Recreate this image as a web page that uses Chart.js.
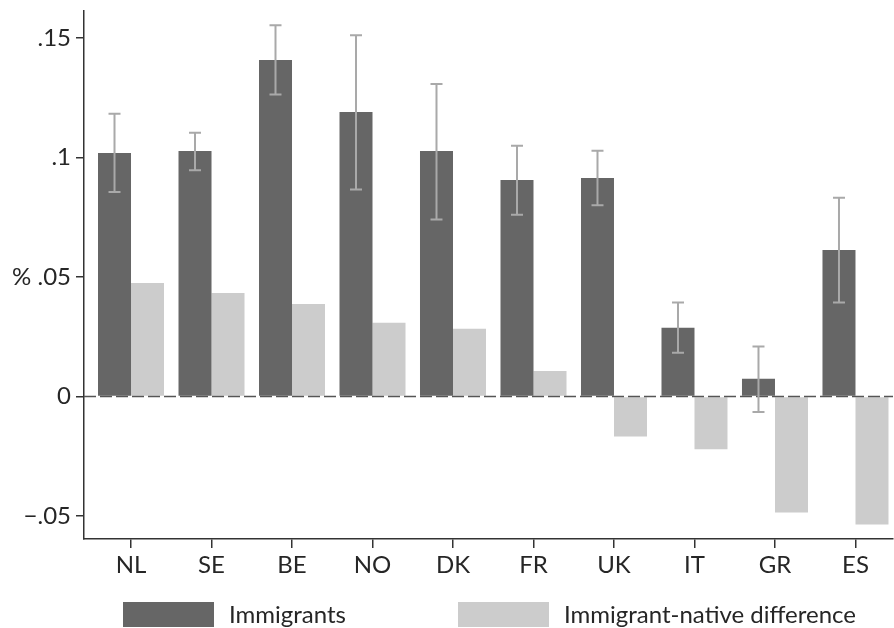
<!DOCTYPE html>
<html>
<head>
<meta charset="utf-8">
<script src="https://cdn.jsdelivr.net/npm/chart.js@4/dist/chart.umd.min.js"></script>
<style>
  html, body { margin: 0; padding: 0; background: #ffffff; }
  #wrap { width: 894px; height: 628px; }
</style>
</head>
<body>
<div id="wrap"><canvas id="c" width="894" height="628"></canvas></div>
<script>
const countries = ['NL', 'SE', 'BE', 'NO', 'DK', 'FR', 'UK', 'IT', 'GR', 'ES'];
const immigrants = [0.1018, 0.1027, 0.1407, 0.1190, 0.1027, 0.0905, 0.0914, 0.0287, 0.0074, 0.0613];
const immigrantsLow = [0.0855, 0.0946, 0.1263, 0.0866, 0.0740, 0.0760, 0.0800, 0.0183, -0.0065, 0.0393];
const immigrantsHigh = [0.1182, 0.1103, 0.1552, 0.1511, 0.1307, 0.1049, 0.1028, 0.0393, 0.0209, 0.0831];
const difference = [0.0475, 0.0433, 0.0387, 0.0308, 0.0283, 0.0107, -0.0167, -0.0221, -0.0485, -0.0535];
const yTickValues = [-0.05, 0, 0.05, 0.1, 0.15];
const yTickLabels = ['\u2212.05', '0', '.05', '.1', '.15'];
const seriesNames = ['Immigrants', 'Immigrant-native difference'];
const yAxisTitle = '%';

const FONT = 'Lato, "Open Sans", sans-serif';
const TEXT = '#262626';

const overlay = {
  id: 'overlay',
  afterDatasetsDraw(chart) {
    const ctx = chart.ctx;
    const ys = chart.scales.y;
    const area = chart.chartArea;
    // dashed zero line
    const y0 = ys.getPixelForValue(0);
    ctx.save();
    ctx.strokeStyle = '#555555';
    ctx.lineWidth = 1.5;
    ctx.setLineDash([12, 4]);
    ctx.beginPath();
    ctx.moveTo(area.left, y0);
    ctx.lineTo(area.right, y0);
    ctx.stroke();
    ctx.restore();
    // error bars on immigrants
    const meta = chart.getDatasetMeta(0);
    ctx.save();
    ctx.strokeStyle = '#a9a9a9';
    ctx.lineWidth = 2;
    meta.data.forEach((bar, i) => {
      const x = bar.x;
      const yl = ys.getPixelForValue(immigrantsLow[i]);
      const yh = ys.getPixelForValue(immigrantsHigh[i]);
      ctx.beginPath();
      ctx.moveTo(x, yl); ctx.lineTo(x, yh);
      ctx.moveTo(x - 6, yl); ctx.lineTo(x + 6, yl);
      ctx.moveTo(x - 6, yh); ctx.lineTo(x + 6, yh);
      ctx.stroke();
    });
    ctx.restore();
  },
  afterDraw(chart) {
    const ctx = chart.ctx;
    const ys = chart.scales.y;
    ctx.save();
    ctx.font = '24px ' + FONT;
    ctx.fillStyle = TEXT;
    ctx.textBaseline = 'middle';
    ctx.textAlign = 'left';
    ctx.fillText(yAxisTitle, 12, ys.getPixelForValue(0.05));
    // legend
    const boxX = [123, 458];
    chart.data.datasets.forEach((ds, i) => {
      ctx.fillStyle = ds.backgroundColor;
      ctx.fillRect(boxX[i], 602, 91, 25);
      ctx.fillStyle = TEXT;
      ctx.fillText(ds.label, boxX[i] + 106, 615);
    });
    ctx.restore();
  }
};

new Chart(document.getElementById('c'), {
  type: 'bar',
  data: {
    datasets: [
      { label: seriesNames[0], data: immigrants.map((v, i) => ({ x: i, y: v })), backgroundColor: '#666666', borderWidth: 0 },
      { label: seriesNames[1], data: difference.map((v, i) => ({ x: i, y: v })), backgroundColor: '#cccccc', borderWidth: 0 }
    ]
  },
  options: {
    responsive: false,
    animation: false,
    devicePixelRatio: 1,
    layout: { padding: { top: 11, right: 1, left: 0, bottom: 0 } },
    datasets: { bar: { categoryPercentage: 0.82, barPercentage: 1.0 } },
    plugins: { legend: { display: false }, tooltip: { enabled: false } },
    scales: {
      x: {
        type: 'linear',
        offset: false,
        min: -0.584,
        max: 9.466,
        afterBuildTicks: (s) => { s.ticks = countries.map((c, i) => ({ value: i })); },
        afterFit: (s) => { s.height = 89; s.paddingLeft = 0; s.paddingRight = 0; },
        ticks: {
          autoSkip: false,
          maxRotation: 0,
          padding: 3,
          color: TEXT,
          font: { family: FONT, size: 24 },
          callback: (v) => countries[v]
        },
        grid: { display: true, offset: false, drawOnChartArea: false, drawTicks: true, tickLength: 9, color: '#333333', lineWidth: 1.5 },
        border: { display: true, color: '#333333', width: 1.5 }
      },
      y: {
        min: -0.0596,
        max: 0.1612,
        afterBuildTicks: (s) => { s.ticks = yTickValues.map(v => ({ value: v })); },
        afterFit: (s) => { s.width = 84; s.paddingTop = 0; s.paddingBottom = 0; },
        ticks: {
          padding: 5,
          color: TEXT,
          font: { family: FONT, size: 24 },
          callback: (v) => yTickLabels[yTickValues.findIndex(t => Math.abs(t - v) < 1e-9)]
        },
        grid: { display: true, drawOnChartArea: false, drawTicks: true, tickLength: 8, color: '#333333', lineWidth: 1.5 },
        border: { display: true, color: '#333333', width: 1.5 }
      }
    }
  },
  plugins: [overlay]
});
</script>
</body>
</html>
